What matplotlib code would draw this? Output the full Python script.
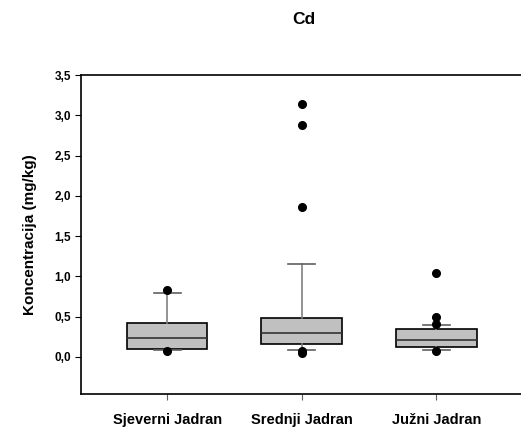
import matplotlib
matplotlib.use("Agg")
import matplotlib.pyplot as plt
from matplotlib.ticker import FuncFormatter

plt.rcParams['font.family'] = ['Liberation Sans', 'DejaVu Sans']

categories = ["Sjeverni Jadran", "Srednji Jadran", "Južni Jadran"]
q1 = [0.10, 0.16, 0.125]
median = [0.235, 0.30, 0.21]
q3 = [0.42, 0.48, 0.35]
whisker_low = [0.09, 0.09, 0.09]
whisker_high = [0.79, 1.15, 0.40]
outliers = [
    [0.83, 0.07],
    [3.14, 2.88, 1.86, 0.07, 0.05],
    [1.04, 0.50, 0.41, 0.08],
]
yticks = [0.0, 0.5, 1.0, 1.5, 2.0, 2.5, 3.0, 3.5]

stats = []
for i, name in enumerate(categories):
    stats.append(dict(label=name, q1=q1[i], med=median[i], q3=q3[i],
                      whislo=whisker_low[i], whishi=whisker_high[i],
                      fliers=outliers[i]))

fig = plt.figure(figsize=(5.21, 4.34), dpi=100)
ax = fig.add_axes([81/521, 1-394/434, (525-81)/521, (394-75)/434])

ax.bxp(stats, positions=[1, 2, 3], widths=0.6, patch_artist=True,
       boxprops=dict(facecolor='#c0c0c0', edgecolor='black', linewidth=1.2),
       medianprops=dict(color='#333333', linewidth=1.2),
       whiskerprops=dict(color='#808080', linewidth=1.2),
       capprops=dict(color='#606060', linewidth=1.2),
       capwidths=0.2,
       flierprops=dict(marker='o', markerfacecolor='black', markeredgecolor='black', markersize=5.5))

ax.set_xlim(0.36, 3.66)
ax.set_ylim(-0.46, 3.5)
ax.set_yticks(yticks)
ax.yaxis.set_major_formatter(FuncFormatter(lambda v, p: f"{v:.1f}".replace('.', ',')))
ax.set_xticks([1, 2, 3])
ax.set_xticklabels(categories, fontsize=10.5, fontweight='bold')
ax.tick_params(axis='x', length=4, pad=10, color='#606060')
ax.tick_params(axis='y', length=4, labelsize=8.5, pad=3)
for lab in ax.get_yticklabels():
    lab.set_fontweight('bold')
for s in ax.spines.values():
    s.set_linewidth(1.2)
ax.set_ylabel("Koncentracija (mg/kg)", fontsize=11, fontweight='bold', labelpad=13)
fig.text(304/521, 1-20/434, "Cd", ha='center', va='center', fontsize=12.5, fontweight='bold')

fig.savefig("out.png", dpi=100)
